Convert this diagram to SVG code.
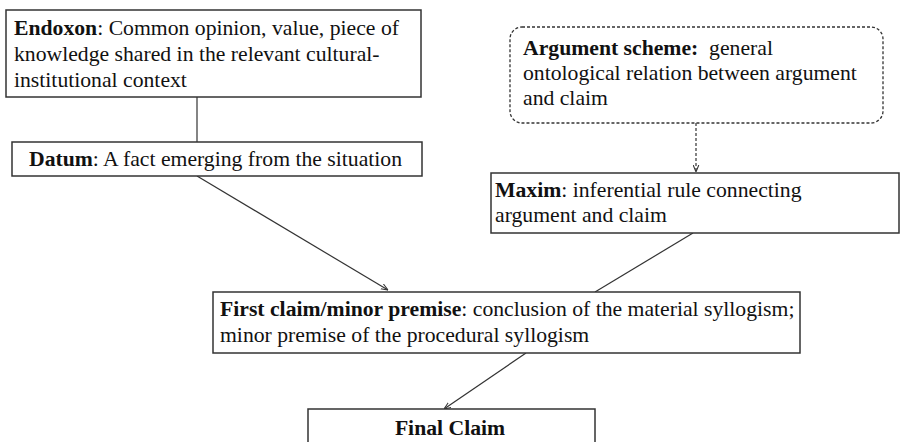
<svg xmlns="http://www.w3.org/2000/svg" width="900" height="442" viewBox="0 0 900 442">
<defs>
<style>
.box{fill:#fff;stroke:#333;stroke-width:1.5}
.dbox{fill:#fff;stroke:#333;stroke-width:1.3;stroke-dasharray:3 2}
text{font-family:'Liberation Serif','Times New Roman',serif;font-size:21.7px;fill:#111}
.b{font-weight:bold}
.ln{stroke:#333;stroke-width:1.2;fill:none}
</style>
<marker id="ah" viewBox="0 0 10 10" refX="10" refY="5" markerWidth="7" markerHeight="7" orient="auto" markerUnits="userSpaceOnUse">
<path d="M0,1 L10,5 L0,9" fill="none" stroke="#333" stroke-width="1.5"/>
</marker>
</defs>
<rect width="900" height="442" fill="#fff"/>
<g id="connectors">
<line class="ln" x1="197" y1="97" x2="197" y2="142"/>
<line class="ln" x1="696" y1="123" x2="696" y2="172" stroke-dasharray="3 2" marker-end="url(#ah)"/>
<line class="ln" x1="197" y1="176" x2="388" y2="290" marker-end="url(#ah)"/>
<line class="ln" x1="693" y1="233" x2="595" y2="292"/>
<line class="ln" x1="526" y1="353" x2="444" y2="409" marker-end="url(#ah)"/>
</g>
<g id="endoxon">
<rect class="box" x="6" y="10" width="415" height="87"/>
<text x="14" y="35"><tspan class="b">Endoxon</tspan>: Common opinion, value, piece of</text>
<text x="14" y="61">knowledge shared in the relevant cultural-</text>
<text x="14" y="87">institutional context</text>
</g>
<g id="datum">
<rect class="box" x="12" y="142" width="410" height="34"/>
<text x="29" y="166"><tspan class="b">Datum</tspan>: A fact emerging from the situation</text>
</g>
<g id="scheme">
<rect class="dbox" x="510" y="27" width="373" height="96" rx="12" ry="12"/>
<text x="523" y="55"><tspan class="b">Argument scheme:</tspan>&#160; general</text>
<text x="523" y="80">ontological relation between argument</text>
<text x="523" y="105">and claim</text>
</g>
<g id="maxim">
<rect class="box" x="491" y="173" width="408" height="60"/>
<text x="495" y="197"><tspan class="b">Maxim</tspan>: inferential rule connecting</text>
<text x="495" y="222">argument and claim</text>
</g>
<g id="first">
<rect class="box" x="213" y="292" width="587" height="61"/>
<text x="220" y="316"><tspan class="b">First claim/minor premise</tspan>: conclusion of the material syllogism;</text>
<text x="220" y="342">minor premise of the procedural syllogism</text>
</g>
<g id="final">
<rect class="box" x="308" y="409" width="287" height="40"/>
<text class="b" x="450" y="435" text-anchor="middle">Final Claim</text>
</g>
</svg>
